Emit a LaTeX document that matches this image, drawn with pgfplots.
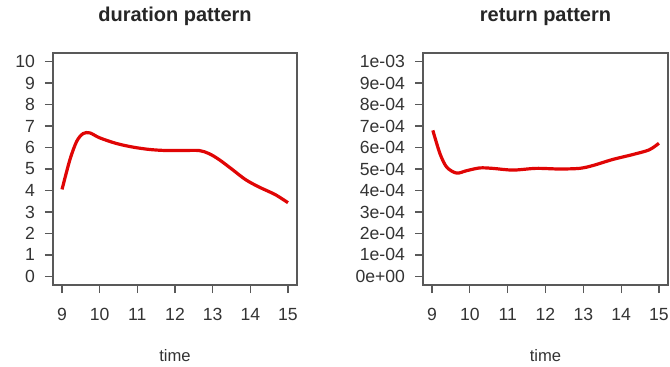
\documentclass[border=0pt]{standalone}
\usepackage{fontspec}
\setmainfont{Liberation Sans}
\usepackage{pgfplots}
\pgfplotsset{compat=1.18}
\definecolor{axgray}{gray}{0.35}
\definecolor{txtgray}{gray}{0.2}
\definecolor{curve}{rgb}{0.88,0.02,0.02}
\begin{document}
\begin{tikzpicture}
\useasboundingbox (0pt,0pt) rectangle (335pt,183pt);
\pgfplotsset{
  rstyle/.style={
    scale only axis,
    anchor=south west,
    width=122pt, height=116pt,
    axis line style={axgray, line width=0.6pt},
    tick style={axgray, line width=0.6pt},
    tick align=outside,
    major tick length=4pt,
    xtick pos=bottom, ytick pos=left,
    xmin=8.76, xmax=15.24,
    xtick={9,10,11,12,13,14,15},
    xticklabels={9,10,11,12,13,14,15},
    ticklabel style={font=\fontsize{8.8}{10}\selectfont, text=txtgray},
    xticklabel style={yshift=-4pt},
    yticklabel style={xshift=-1.5pt},
    xlabel={time},
    xlabel style={font=\fontsize{8.3}{10}\selectfont, text=txtgray, yshift=-7.5pt},
    title style={font=\fontsize{10}{12}\selectfont\bfseries, text=black!85, yshift=4pt},
    clip=true,
  }
}
\begin{axis}[rstyle, at={(26.5pt,40.5pt)},
  title={duration pattern},
  ymin=-0.4, ymax=10.4,
  ytick={0,1,2,3,4,5,6,7,8,9,10},
  yticklabels={0,1,2,3,4,5,6,7,8,9,10}]
\addplot[curve, line width=1.6pt, smooth] coordinates {
(9.00,4.05) (9.21,5.44) (9.39,6.29) (9.56,6.65) (9.74,6.68) (10.00,6.45)
(10.44,6.19) (10.88,6.02) (11.32,5.91) (11.76,5.86) (12.20,5.86) (12.64,5.86)
(12.90,5.72) (13.17,5.44) (13.52,4.98) (13.87,4.51) (14.22,4.17) (14.66,3.81)
(15.00,3.43)};
\end{axis}
\begin{axis}[rstyle, at={(211.5pt,40.5pt)}, width=122.5pt,
  title={return pattern},
  ymin=-0.00004, ymax=0.00104,
  scaled y ticks=false,
  ytick={0,0.0001,0.0002,0.0003,0.0004,0.0005,0.0006,0.0007,0.0008,0.0009,0.001},
  yticklabels={0e+00,1e-04,2e-04,3e-04,4e-04,5e-04,6e-04,7e-04,8e-04,9e-04,1e-03}]
\addplot[curve, line width=1.6pt, smooth] coordinates {
(9.02,0.000680) (9.21,0.000571) (9.39,0.000508) (9.65,0.000481) (9.91,0.000492)
(10.26,0.000505) (10.60,0.000503) (11.14,0.000495) (11.75,0.000503) (12.37,0.000500)
(12.90,0.000503) (13.25,0.000516) (13.77,0.000544) (14.30,0.000567) (14.74,0.000589)
(15.00,0.000620)};
\end{axis}
\end{tikzpicture}
\end{document}
